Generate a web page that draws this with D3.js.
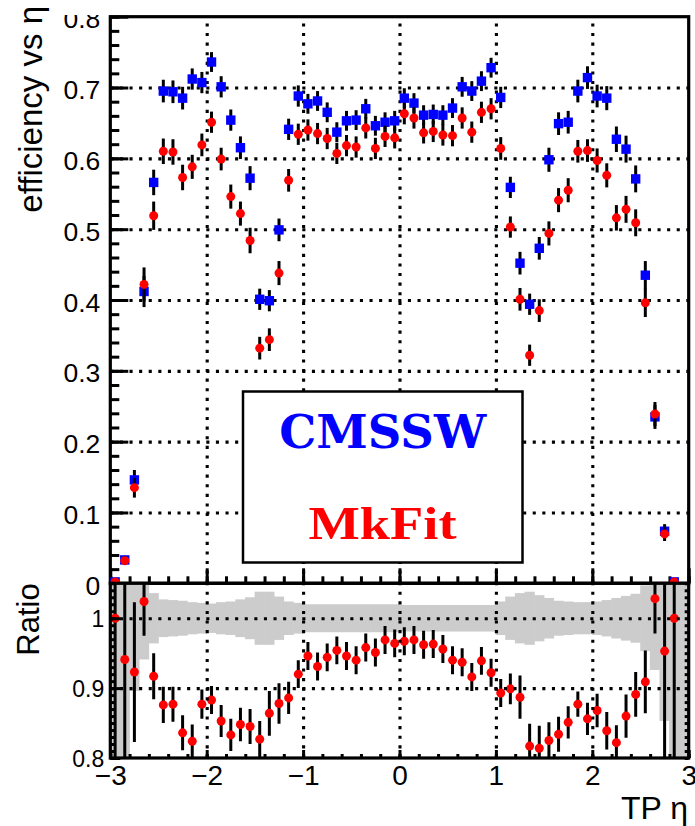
<!DOCTYPE html>
<html>
<head>
<meta charset="utf-8">
<script src="https://cdn.jsdelivr.net/npm/d3@7"></script>
<style>
  html, body { margin: 0; padding: 0; background: #fff; }
  svg { display: block; font-family: "Liberation Sans", Arial, Helvetica, sans-serif; }
</style>
</head>
<body>
<svg id="chart" width="695" height="826"></svg>
<script>
'use strict';

/*==============================
=            Data              =
==============================*/

// TP eta bin centres (60 bins of 0.1 from -3 to 3)
var etaBins = [
  -2.95, -2.85, -2.75, -2.65, -2.55, -2.45, -2.35, -2.25, -2.15, -2.05,
  -1.95, -1.85, -1.75, -1.65, -1.55, -1.45, -1.35, -1.25, -1.15, -1.05,
  -0.95, -0.85, -0.75, -0.65, -0.55, -0.45, -0.35, -0.25, -0.15, -0.05,
   0.05,  0.15,  0.25,  0.35,  0.45,  0.55,  0.65,  0.75,  0.85,  0.95,
   1.05,  1.15,  1.25,  1.35,  1.45,  1.55,  1.65,  1.75,  1.85,  1.95,
   2.05,  2.15,  2.25,  2.35,  2.45,  2.55,  2.65,  2.75,  2.85,  2.95
];

var effCmssw = [
  0.002, 0.033, 0.146, 0.412, 0.566, 0.695, 0.694, 0.685, 0.712, 0.707,
  0.736, 0.701, 0.654, 0.615, 0.572, 0.401, 0.399, 0.499, 0.641, 0.688,
  0.677, 0.681, 0.665, 0.637, 0.653, 0.654, 0.670, 0.646, 0.651, 0.653,
  0.685, 0.678, 0.661, 0.662, 0.661, 0.671, 0.701, 0.695, 0.709, 0.728,
  0.686, 0.559, 0.452, 0.394, 0.473, 0.598, 0.649, 0.651, 0.695, 0.714,
  0.688, 0.685, 0.627, 0.613, 0.571, 0.435, 0.235, 0.0735, 0.002, null
];

var errCmssw = [
  0.002, 0.006, 0.014, 0.022, 0.018, 0.016, 0.016, 0.016, 0.015, 0.015,
  0.014, 0.015, 0.015, 0.016, 0.017, 0.015, 0.015, 0.016, 0.015, 0.015,
  0.014, 0.014, 0.014, 0.014, 0.014, 0.014, 0.014, 0.014, 0.014, 0.014,
  0.014, 0.014, 0.014, 0.014, 0.014, 0.014, 0.014, 0.014, 0.014, 0.014,
  0.015, 0.015, 0.016, 0.015, 0.016, 0.017, 0.016, 0.016, 0.016, 0.016,
  0.016, 0.017, 0.018, 0.019, 0.019, 0.020, 0.017, 0.010, 0.002, null
];

var effMkfit = [
  0.002, 0.032, 0.135, 0.422, 0.519, 0.610, 0.609, 0.573, 0.588, 0.619,
  0.651, 0.599, 0.546, 0.522, 0.484, 0.332, 0.344, 0.438, 0.569, 0.634,
  0.640, 0.635, 0.628, 0.607, 0.618, 0.616, 0.643, 0.614, 0.631, 0.629,
  0.663, 0.657, 0.636, 0.638, 0.633, 0.632, 0.657, 0.637, 0.665, 0.670,
  0.614, 0.503, 0.401, 0.322, 0.385, 0.494, 0.541, 0.555, 0.610, 0.611,
  0.597, 0.576, 0.516, 0.528, 0.509, 0.396, 0.239, 0.0697, 0.002, null
];

var errMkfit = [
  0.002, 0.006, 0.014, 0.024, 0.020, 0.018, 0.018, 0.018, 0.017, 0.016,
  0.015, 0.016, 0.017, 0.017, 0.018, 0.016, 0.016, 0.017, 0.016, 0.015,
  0.015, 0.015, 0.015, 0.015, 0.015, 0.015, 0.015, 0.015, 0.015, 0.015,
  0.015, 0.015, 0.015, 0.015, 0.015, 0.015, 0.015, 0.015, 0.015, 0.015,
  0.016, 0.015, 0.016, 0.015, 0.016, 0.017, 0.017, 0.017, 0.016, 0.016,
  0.017, 0.017, 0.018, 0.019, 0.019, 0.020, 0.017, 0.010, 0.002, null
];

// MkFit / CMSSW ratio
var ratioVals = [
  1.000, 0.941, 0.923, 1.024, 0.917, 0.876, 0.877, 0.836, 0.824, 0.877,
  0.883, 0.853, 0.833, 0.848, 0.845, 0.827, 0.864, 0.878, 0.886, 0.920,
  0.946, 0.931, 0.944, 0.954, 0.946, 0.940, 0.958, 0.951, 0.969, 0.964,
  0.967, 0.969, 0.962, 0.963, 0.956, 0.940, 0.937, 0.916, 0.939, 0.922,
  0.893, 0.899, 0.887, 0.817, 0.814, 0.825, 0.834, 0.851, 0.877, 0.856,
  0.868, 0.839, 0.822, 0.860, 0.891, 0.909, 1.028, 0.953, 1.000, null
];

var ratioErr = [
  1.000, 1.000, 0.100, 0.049, 0.033, 0.026, 0.025, 0.025, 0.024, 0.021,
  0.020, 0.023, 0.023, 0.024, 0.025, 0.026, 0.032, 0.029, 0.023, 0.020,
  0.020, 0.020, 0.020, 0.020, 0.020, 0.020, 0.020, 0.020, 0.020, 0.020,
  0.020, 0.020, 0.020, 0.020, 0.020, 0.020, 0.020, 0.020, 0.020, 0.020,
  0.020, 0.022, 0.031, 0.032, 0.032, 0.026, 0.025, 0.023, 0.018, 0.023,
  0.024, 0.027, 0.025, 0.031, 0.032, 0.045, 0.050, 0.190, 1.000, null
];

// half width of the grey CMSSW uncertainty band around 1
var bandHalf = [
  1.000, 1.000, 0.104, 0.059, 0.036, 0.027, 0.026, 0.025, 0.023, 0.022,
  0.021, 0.023, 0.024, 0.027, 0.030, 0.038, 0.038, 0.031, 0.024, 0.022,
  0.020, 0.020, 0.020, 0.020, 0.020, 0.020, 0.020, 0.020, 0.020, 0.020,
  0.019, 0.019, 0.019, 0.019, 0.019, 0.019, 0.019, 0.019, 0.019, 0.019,
  0.024, 0.031, 0.036, 0.038, 0.033, 0.029, 0.025, 0.024, 0.023, 0.023,
  0.024, 0.026, 0.029, 0.032, 0.035, 0.047, 0.074, 0.147, 1.000, 1.000
];

var xTicks      = [-3, -2, -1, 0, 1, 2, 3];
var xTickLabels = ['\u22123', '\u22122', '\u22121', '0', '1', '2', '3'];
var yTopTicks   = [0, 0.1, 0.2, 0.3, 0.4, 0.5, 0.6, 0.7, 0.8];
var yTopLabels  = ['0', '0.1', '0.2', '0.3', '0.4', '0.5', '0.6', '0.7', '0.8'];
var yRatioTicks = [0.8, 0.9, 1];
var yRatioLabels = ['0.8', '0.9', '1'];
var legendLabels = ['CMSSW', 'MkFit'];

/*=====  End of Data  ======*/

var svg = d3.select('#chart');

var left = 110.3, right = 688.7;
var topY = 16.7, midY = 583.3, botY = 758;

var x = d3.scaleLinear().domain([-3, 3]).range([left, right]);
var yTop = d3.scaleLinear().domain([0, 0.8]).range([midY, topY]);
var yRat = d3.scaleLinear().domain([0.8, 1.05]).range([botY, midY]);

var bins = etaBins.map(function (e, i) {
    return {
        eta: e, cms: effCmssw[i], cmsErr: errCmssw[i],
        mk: effMkfit[i], mkErr: errMkfit[i],
        r: ratioVals[i], rErr: ratioErr[i], band: bandHalf[i]
    };
});

var minorRange = function (a, b, step) {
    var out = [];
    for (var v = a; v <= b + 1e-9; v += step) out.push(+v.toFixed(4));
    return out;
};

function styleAxis(g, width) {
    g.select('.domain').remove();
    g.selectAll('.tick line').attr('stroke', '#000').attr('stroke-width', width || 3);
    return g;
}

function dottedGrid(g) {
    g.select('.domain').remove();
    g.selectAll('.tick line')
        .attr('stroke', '#000')
        .attr('stroke-width', 3.1)
        .attr('stroke-dasharray', '3.1,6.5');
    g.selectAll('.tick text').remove();
}

/*======================================
=            Top panel                 =
======================================*/

var defs = svg.append('defs');
defs.append('clipPath').attr('id', 'clipRatio')
    .append('rect').attr('x', left).attr('y', midY)
    .attr('width', right - left).attr('height', botY - midY);
// the top of the "0.8" label is cut in the original picture
// (clip box is given in the axis group's own, translated, coordinates)
defs.append('clipPath').attr('id', 'clipLabels')
    .append('rect').attr('x', -left).attr('y', 15).attr('width', 695).attr('height', 811);

// grid
svg.append('g').attr('transform', 'translate(0,' + midY + ')')
    .call(d3.axisBottom(x).tickValues([-2, -1, 0, 1, 2]).tickSize(-(midY - topY)).tickFormat(''))
    .call(dottedGrid);
svg.append('g').attr('transform', 'translate(' + left + ',0)')
    .call(d3.axisLeft(yTop).tickValues([0.1, 0.2, 0.3, 0.4, 0.5, 0.6, 0.7]).tickSize(-(right - left)).tickFormat(''))
    .call(dottedGrid);

// legend box (covers the grid)
var legend = svg.append('g').attr('class', 'legend');
legend.append('rect')
    .attr('x', 243).attr('y', 391.5).attr('width', 279.5).attr('height', 171)
    .attr('fill', '#fff').attr('stroke', '#000').attr('stroke-width', 2.5);
legend.append('text')
    .attr('x', 382.7).attr('y', 448.3)
    .attr('text-anchor', 'middle')
    .attr('font-family', '"DejaVu Serif", "Liberation Serif", serif')
    .attr('font-weight', 'bold')
    .attr('font-size', 46)
    .attr('textLength', 207).attr('lengthAdjust', 'spacingAndGlyphs')
    .attr('fill', '#0000ff')
    .text(legendLabels[0]);
legend.append('text')
    .attr('x', 382.5).attr('y', 539.3)
    .attr('text-anchor', 'middle')
    .attr('font-family', '"Liberation Serif", "DejaVu Serif", serif')
    .attr('font-weight', 'bold')
    .attr('font-size', 47)
    .attr('textLength', 148).attr('lengthAdjust', 'spacingAndGlyphs')
    .attr('fill', '#ff0000')
    .text(legendLabels[1]);

// frame
svg.append('rect')
    .attr('x', left).attr('y', topY).attr('width', right - left).attr('height', midY - topY)
    .attr('fill', 'none').attr('stroke', '#000').attr('stroke-width', 3.2);

// y axis: minor then major ticks
svg.append('g').attr('transform', 'translate(' + left + ',0)')
    .call(d3.axisLeft(yTop).tickValues(minorRange(0, 0.8, 0.02)).tickSize(-9).tickFormat(''))
    .call(styleAxis);
var yTopAxis = svg.append('g').attr('transform', 'translate(' + left + ',0)')
    .attr('clip-path', 'url(#clipLabels)')
    .call(d3.axisLeft(yTop).tickValues(yTopTicks).tickSize(-18).tickPadding(10)
        .tickFormat(function (d, i) { return yTopLabels[i]; }))
    .call(styleAxis);
yTopAxis.selectAll('text').attr('font-size', 26.5).attr('dy', '0.42em').attr('fill', '#000');

// x axis of top panel: ticks only
svg.append('g').attr('transform', 'translate(0,' + midY + ')')
    .call(d3.axisBottom(x).tickValues(minorRange(-3, 3, 0.2)).tickSize(-7).tickFormat(''))
    .call(styleAxis);
svg.append('g').attr('transform', 'translate(0,' + midY + ')')
    .call(d3.axisBottom(x).tickValues(xTicks).tickSize(-15).tickFormat(''))
    .call(styleAxis);

// CMSSW points
var valid = bins.filter(function (d) { return d.cms !== null; });
var cmsG = svg.append('g');
cmsG.selectAll('line').data(valid).join('line')
    .attr('x1', function (d) { return x(d.eta); })
    .attr('x2', function (d) { return x(d.eta); })
    .attr('y1', function (d) { return yTop(d.cms - d.cmsErr); })
    .attr('y2', function (d) { return yTop(d.cms + d.cmsErr); })
    .attr('stroke', '#000').attr('stroke-width', 3);
cmsG.selectAll('rect').data(valid).join('rect')
    .attr('x', function (d) { return x(d.eta) - 4.7; })
    .attr('y', function (d) { return yTop(d.cms) - 4.7; })
    .attr('width', 9.4).attr('height', 9.4)
    .attr('fill', '#0000ff');

// MkFit points
var mkG = svg.append('g');
mkG.selectAll('line').data(valid).join('line')
    .attr('x1', function (d) { return x(d.eta); })
    .attr('x2', function (d) { return x(d.eta); })
    .attr('y1', function (d) { return yTop(d.mk - d.mkErr); })
    .attr('y2', function (d) { return yTop(d.mk + d.mkErr); })
    .attr('stroke', '#000').attr('stroke-width', 3);
mkG.selectAll('circle').data(valid).join('circle')
    .attr('cx', function (d) { return x(d.eta); })
    .attr('cy', function (d) { return yTop(d.mk); })
    .attr('r', 4.5)
    .attr('fill', '#ff0000');

/*======================================
=            Ratio panel               =
======================================*/

var ratioG = svg.append('g').attr('clip-path', 'url(#clipRatio)');

// grey band
ratioG.selectAll('rect.band').data(bins).join('rect')
    .attr('class', 'band')
    .attr('x', function (d) { return x(d.eta - 0.05) - 0.3; })
    .attr('width', function (d) { return x(d.eta + 0.05) - x(d.eta - 0.05) + 0.6; })
    .attr('y', function (d) { return yRat(1 + d.band); })
    .attr('height', function (d) { return yRat(1 - d.band) - yRat(1 + d.band); })
    .attr('fill', '#cccccc');

// grid
svg.append('g').attr('transform', 'translate(0,' + botY + ')')
    .call(d3.axisBottom(x).tickValues([-2, -1, 0, 1, 2]).tickSize(-(botY - midY)).tickFormat(''))
    .call(dottedGrid);
svg.append('g').attr('transform', 'translate(' + left + ',0)')
    .call(d3.axisLeft(yRat).tickValues([0.9, 1]).tickSize(-(right - left)).tickFormat(''))
    .call(dottedGrid);

// ratio points
var rValid = bins.filter(function (d) { return d.r !== null; });
ratioG.selectAll('line.err').data(rValid).join('line')
    .attr('class', 'err')
    .attr('x1', function (d) { return x(d.eta); })
    .attr('x2', function (d) { return x(d.eta); })
    .attr('y1', function (d) { return yRat(d.r - d.rErr); })
    .attr('y2', function (d) { return yRat(d.r + d.rErr); })
    .attr('stroke', '#000').attr('stroke-width', 3);
ratioG.selectAll('circle').data(rValid).join('circle')
    .attr('cx', function (d) { return x(d.eta); })
    .attr('cy', function (d) { return yRat(d.r); })
    .attr('r', 4.5)
    .attr('fill', '#ff0000');

// frame
svg.append('rect')
    .attr('x', left).attr('y', midY).attr('width', right - left).attr('height', botY - midY)
    .attr('fill', 'none').attr('stroke', '#000').attr('stroke-width', 3.2);

// ratio y axis (left) and mirrored ticks (right)
svg.append('g').attr('transform', 'translate(' + left + ',0)')
    .call(d3.axisLeft(yRat).tickValues(minorRange(0.8, 1.05, 0.01)).tickSize(-5).tickFormat(''))
    .call(styleAxis);
var yRatAxis = svg.append('g').attr('transform', 'translate(' + left + ',0)')
    .call(d3.axisLeft(yRat).tickValues(yRatioTicks).tickSize(-10).tickPadding(6)
        .tickFormat(function (d, i) { return yRatioLabels[i]; }))
    .call(styleAxis);
yRatAxis.selectAll('text').attr('font-size', 23).attr('dy', '0.36em').attr('fill', '#000');

svg.append('g').attr('transform', 'translate(' + right + ',0)')
    .call(d3.axisRight(yRat).tickValues(minorRange(0.8, 1.05, 0.01)).tickSize(-4).tickFormat(''))
    .call(styleAxis);

// ratio x axis
svg.append('g').attr('transform', 'translate(0,' + botY + ')')
    .call(d3.axisBottom(x).tickValues(minorRange(-3, 3, 0.2)).tickSize(-4).tickFormat(''))
    .call(styleAxis);
var xAxis = svg.append('g').attr('transform', 'translate(0,' + botY + ')')
    .call(d3.axisBottom(x).tickValues(xTicks).tickSize(-8).tickPadding(7)
        .tickFormat(function (d, i) { return xTickLabels[i]; }))
    .call(styleAxis);
xAxis.selectAll('text').attr('font-size', 28).attr('fill', '#000');

/*======================================
=            Titles                    =
======================================*/

svg.append('text')
    .attr('transform', 'translate(41.5,6) rotate(-90)')
    .attr('text-anchor', 'end')
    .attr('font-size', 33)
    .text('efficiency vs \u03b7');

svg.append('text')
    .attr('transform', 'translate(39.3,583.3) rotate(-90)')
    .attr('text-anchor', 'end')
    .attr('font-size', 31)
    .text('Ratio');

svg.append('text')
    .attr('x', 688).attr('y', 819)
    .attr('text-anchor', 'end')
    .attr('font-size', 32)
    .text('TP \u03b7');
</script>
</body>
</html>
